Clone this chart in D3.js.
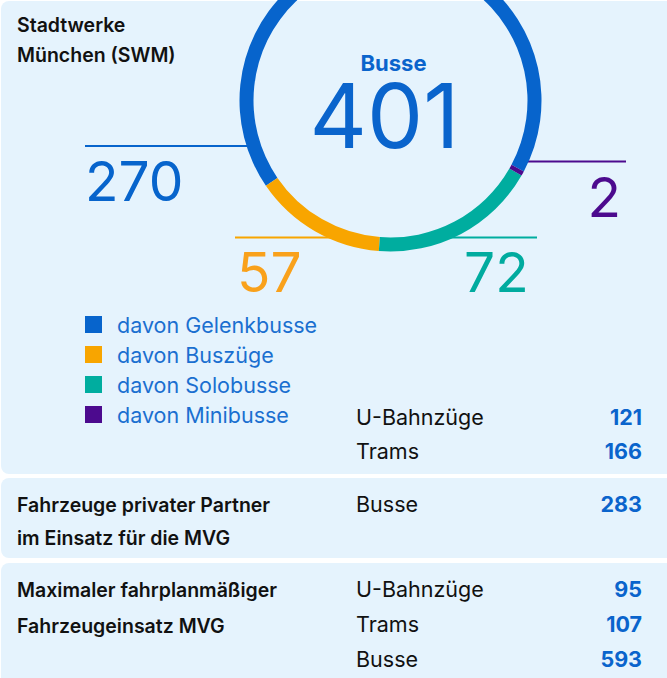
<!DOCTYPE html>
<html lang="de">
<head>
    <meta charset="UTF-8">
    <title>SWM Fahrzeuge</title>
    <script src="https://d3js.org/d3.v7.min.js"></script>
    <style>
        html,
        body {
            margin: 0;
            height: 100%;
            overflow: hidden;
            background: #fff;
        }
        text { font-family: Inter, "Noto Sans", sans-serif; }
    </style>
</head>
<body>
    <svg id="svg"></svg>
    <script>
        // bus fleet (donut)
        const busTypes = ['davon Gelenkbusse', 'davon Buszüge', 'davon Solobusse', 'davon Minibusse'];
        const busCounts = [270, 57, 72, 2];
        const busColors = ['#0764cc', '#f8a500', '#00ad9f', '#4c0a8e'];
        const busLabelColors = ['#0764cc', '#f9a11b', '#00ab9f', '#4c0a8e'];

        // tables
        const swmVehicles = ['U-Bahnzüge', 'Trams'];
        const swmValues = [121, 166];
        const partnerVehicles = ['Busse'];
        const partnerValues = [283];
        const maxVehicles = ['U-Bahnzüge', 'Trams', 'Busse'];
        const maxValues = [95, 107, 593];

        const width = 667, height = 678;
        const svg = d3.select('#svg').attr('width', width).attr('height', height);

        const panelFill = '#e5f3fd';
        const blue = '#0a64cc';
        const ink = '#111';

        // panels
        const panels = [
            { y: 1, h: 473 },
            { y: 478, h: 80 },
            { y: 563, h: 130 }
        ];
        svg.selectAll('rect.panel').data(panels).join('rect')
            .attr('class', 'panel')
            .attr('x', 1).attr('y', d => d.y)
            .attr('width', width + 20).attr('height', d => d.h)
            .attr('rx', 8).attr('fill', panelFill);

        const heading = (lines, x, y0, step) => {
            svg.append('g').selectAll('text').data(lines).join('text')
                .attr('x', x).attr('y', (d, i) => y0 + i * step)
                .attr('font-size', 19.5).attr('font-weight', 600)
                .attr('fill', ink).text(d => d);
        };
        heading(['Stadtwerke', 'München (SWM)'], 17, 32, 30);
        heading(['Fahrzeuge privater Partner', 'im Einsatz für die MVG'], 17, 512, 33);
        heading(['Maximaler fahrplanmäßiger', 'Fahrzeugeinsatz MVG'], 17, 597, 36);

        // donut
        const cx = 390.5, cy = 100.5, rOuter = 151, rInner = 137;
        const rMid = (rOuter + rInner) / 2;
        const start = 118 * Math.PI / 180;
        const pie = d3.pie().sort(null).value(d => d)
            .startAngle(start).endAngle(start - 2 * Math.PI);
        const arcs = pie(busCounts);
        const arc = d3.arc().innerRadius(rInner).outerRadius(rOuter);

        // leader lines + labels (index into busCounts)
        const callouts = [
            { i: 0, y: 146, x1: 85, side: -1, tx: 85, ty: 201, anchor: 'start' },
            { i: 1, y: 237.5, x1: 235, side: -1, tx: 237, ty: 292, anchor: 'start' },
            { i: 2, y: 237.5, x1: 537, side: 1, tx: 464, ty: 292, anchor: 'start' },
            { i: 3, y: 161.5, x1: 626, side: 1, tx: 621, ty: 217, anchor: 'end' }
        ];
        const ringX = c => cx + c.side * Math.sqrt(rMid * rMid - (c.y - cy) * (c.y - cy));

        const chart = svg.append('g');
        chart.selectAll('line.leader').data(callouts).join('line')
            .attr('class', 'leader')
            .attr('x1', d => d.x1).attr('x2', ringX)
            .attr('y1', d => d.y).attr('y2', d => d.y)
            .attr('stroke', d => busColors[d.i]).attr('stroke-width', 2);

        chart.append('g').attr('transform', `translate(${cx}, ${cy})`)
            .selectAll('path').data(arcs).join('path')
            .attr('d', arc)
            .attr('fill', (d, i) => busColors[i]);

        chart.selectAll('text.callout').data(callouts).join('text')
            .attr('class', 'callout')
            .attr('x', d => d.tx).attr('y', d => d.ty)
            .attr('text-anchor', d => d.anchor)
            .attr('font-size', 55).attr('font-weight', 400)
            .attr('fill', d => busLabelColors[d.i])
            .text(d => busCounts[d.i]);

        chart.append('text')
            .attr('x', cx + 3).attr('y', 71)
            .attr('text-anchor', 'middle')
            .attr('font-size', 22).attr('font-weight', 700)
            .attr('fill', blue).text('Busse');
        chart.append('text')
            .attr('x', cx - 6).attr('y', 148)
            .attr('text-anchor', 'middle')
            .attr('font-size', 89).attr('font-weight', 400)
            .attr('fill', blue).text(d3.sum(busCounts));

        // legend
        const legend = svg.append('g').selectAll('g').data(busTypes).join('g')
            .attr('transform', (d, i) => `translate(85, ${316 + i * 30})`);
        legend.append('rect')
            .attr('width', 17).attr('height', 17)
            .attr('fill', (d, i) => busColors[i]);
        legend.append('text')
            .attr('x', 32).attr('y', 16.5)
            .attr('font-size', 21.5).attr('fill', '#1a6fd0')
            .text(d => d);

        // vehicle tables
        const table = (names, values, y0, step) => {
            const g = svg.append('g');
            g.selectAll('text.name').data(names).join('text')
                .attr('class', 'name')
                .attr('x', 356).attr('y', (d, i) => y0 + i * step)
                .attr('font-size', 21.5).attr('fill', ink).text(d => d);
            g.selectAll('text.val').data(values).join('text')
                .attr('class', 'val')
                .attr('x', 642).attr('y', (d, i) => y0 + i * step)
                .attr('text-anchor', 'end')
                .attr('font-size', 21.5).attr('font-weight', 700)
                .attr('fill', blue).text(d => d);
        };
        table(swmVehicles, swmValues, 425, 34);
        table(partnerVehicles, partnerValues, 512, 35);
        table(maxVehicles, maxValues, 597, 35);
    </script>
</body>
</html>
